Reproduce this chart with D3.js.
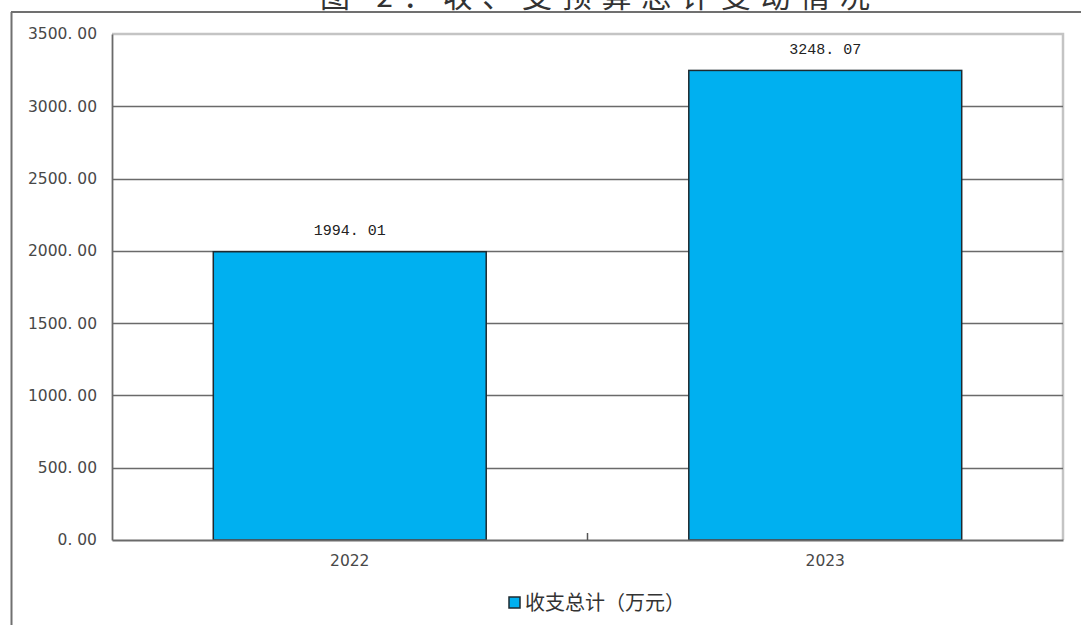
<!DOCTYPE html>
<html>
<head>
<meta charset="utf-8">
<script src="https://cdn.jsdelivr.net/npm/d3@7"></script>
<style>
html,body{margin:0;padding:0;background:#fff;overflow:hidden;}
svg{display:block;}
</style>
</head>
<body>
<svg id="chart" width="1081" height="625"></svg>
<script>
const title = "图 2：收、支预算总计变动情况";
const categories = ["2022", "2023"];
const values = [1994.01, 3248.07];
const seriesName = "收支总计（万元）";
const yTicks = [0, 500, 1000, 1500, 2000, 2500, 3000, 3500];

const svg = d3.select("#chart");
const W = 1081, H = 625;
const plot = {left: 112, right: 1063, top: 34, bottom: 540};

const fmt = v => d3.format(".2f")(v).replace(".", ". ");

// outer frame
svg.append("line").attr("x1", 11).attr("x2", W).attr("y1", 12).attr("y2", 12)
  .attr("stroke", "#707070").attr("stroke-width", 2);
svg.append("line").attr("x1", 11.5).attr("x2", 11.5).attr("y1", 12).attr("y2", H)
  .attr("stroke", "#707070").attr("stroke-width", 2);

// title (cut off at the top, as in the source)
svg.append("text").attr("x", 595).attr("y", 7)
  .attr("text-anchor", "middle")
  .attr("font-family", "Noto Sans CJK SC")
  .attr("font-size", 30)
  .attr("fill", "#333")
  .attr("textLength", 550)
  .attr("lengthAdjust", "spacing")
  .text(title);

const x = d3.scaleBand().domain(categories).range([plot.left, plot.right]).paddingInner(0.426).paddingOuter(0.213);
const y = d3.scaleLinear().domain([0, 3500]).range([plot.bottom, plot.top]);

// plot border (top/right light gray)
svg.append("path")
  .attr("d", `M${plot.left},${plot.top}H${plot.right}V${plot.bottom}`)
  .attr("fill", "none").attr("stroke", "#c4c4c4").attr("stroke-width", 2.5);

// gridlines
svg.append("g").selectAll("line").data(yTicks.filter(t => t > 0 && t < 3500)).join("line")
  .attr("x1", plot.left).attr("x2", plot.right)
  .attr("y1", d => Math.round(y(d)) + 0.5).attr("y2", d => Math.round(y(d)) + 0.5)
  .attr("stroke", "#6a6a6a").attr("stroke-width", 1.6);

// y axis
const yAxis = d3.axisLeft(y).tickValues(yTicks).tickSize(0).tickPadding(15).tickFormat(fmt);
const gy = svg.append("g").attr("transform", `translate(${plot.left},0)`).call(yAxis);
gy.select(".domain").attr("stroke", "#6a6a6a").attr("stroke-width", 1.8);
gy.selectAll("text").attr("font-family", "DejaVu Sans").attr("font-size", 15.5).attr("fill", "#484848");

// bars
svg.append("g").selectAll("rect").data(categories).join("rect")
  .attr("x", d => x(d)).attr("width", x.bandwidth())
  .attr("y", (d, i) => y(values[i])).attr("height", (d, i) => y(0) - y(values[i]))
  .attr("fill", "#00B0F0").attr("stroke", "#1e2a30").attr("stroke-width", 1.5);

// x axis
const xAxis = d3.axisBottom(x).tickSize(0).tickPadding(15);
const gx = svg.append("g").attr("transform", `translate(0,${plot.bottom})`).call(xAxis);
gx.select(".domain").attr("stroke", "#6a6a6a").attr("stroke-width", 1.8);
gx.selectAll("text").attr("font-family", "DejaVu Sans").attr("font-size", 15.5).attr("fill", "#484848");
// category separator tick
const sepX = (x(categories[0]) + x.bandwidth() + x(categories[1])) / 2;
svg.append("line").attr("x1", sepX).attr("x2", sepX).attr("y1", plot.bottom - 7).attr("y2", plot.bottom)
  .attr("stroke", "#555").attr("stroke-width", 1.5);

// data labels
svg.append("g").selectAll("text").data(categories).join("text")
  .attr("x", d => x(d) + x.bandwidth() / 2)
  .attr("y", (d, i) => y(values[i]) - 22)
  .attr("dy", "0.35em")
  .attr("text-anchor", "middle")
  .attr("font-family", "Liberation Mono")
  .attr("font-size", 15)
  .attr("fill", "#222")
  .text((d, i) => fmt(values[i]));

// legend
const lg = svg.append("g");
lg.append("rect").attr("x", 509).attr("y", 597).attr("width", 11).attr("height", 11)
  .attr("fill", "#00B0F0").attr("stroke", "#1e2a30").attr("stroke-width", 1.5);
lg.append("text").attr("x", 525).attr("y", 603).attr("dy", "0.36em")
  .attr("font-family", "Noto Sans CJK SC").attr("font-size", 20).attr("fill", "#333")
  .text(seriesName);
</script>
</body>
</html>
